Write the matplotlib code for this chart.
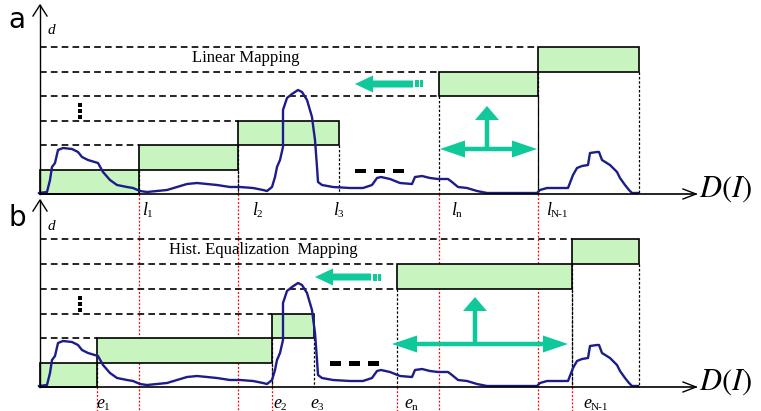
import matplotlib
matplotlib.use('Agg')
import matplotlib.pyplot as plt
from matplotlib.patches import Rectangle, FancyArrow

plt.rcParams['mathtext.fontset'] = 'stix'

# ---- data (pixel units of the 761x411 picture) ----
y_axis_x = 40
axis_end = 696

# panel a: linear mapping
base_a = 194
top_a = 5
levels_a = [194, 170, 145, 121, 96, 72, 47]
edges_a = [40, 139, 238, 339, 439, 538, 639]
l_marks = [139, 238, 439, 538]
l_subs = ['1', '2', '3', 'n', 'N-1']
l_label_x = [142, 252, 333, 451, 546]

# panel b: histogram equalization mapping
base_b = 387
top_b = 200
levels_b = [387, 363, 338, 314, 289, 264, 239]
edges_b = [40, 97, 272, 314, 397, 572, 639]
e_marks = [97, 272, 397, 572]
e_subs = ['1', '2', '3', 'n', 'N-1']
e_label_x = [96, 273, 310, 404, 583]

# boxes: (left edge idx, right edge idx, bottom level idx)
boxes = [(0, 1, 0), (1, 2, 1), (2, 3, 2), (4, 5, 4), (5, 6, 5)]
# dashed level lines: (level idx, edge idx where the dash stops)
dash_levels = [(2, 1), (3, 2), (4, 4), (5, 4), (6, 5)]

# intensity histogram curve (x, height above axis)
curve_x = [39, 47, 50, 52, 55, 58, 63, 72, 78, 82, 88, 98, 103, 110, 117, 127,
           133, 140, 147, 157, 167, 177, 187, 197, 207, 217, 230, 240, 253, 263,
           267, 272, 275, 277, 280, 283, 283, 287, 292, 298, 302, 307, 312, 313,
           315, 317, 318, 322, 333, 350, 363, 372, 377, 381, 390, 400, 412, 415,
           422, 430, 438, 448, 452, 458, 467, 477, 487, 513, 537, 540, 547, 568,
           573, 577, 582, 588, 590, 597, 599, 602, 610, 617, 620, 625, 629, 632, 638]
curve_h = [1, 2, 14, 27, 31, 44, 46, 45, 42, 37, 34, 31, 22, 14, 9, 7,
           6, 3, 2, 3, 4, 7, 10, 11, 10, 9, 7, 7, 6, 4,
           3, 7, 17, 27, 34, 47, 84, 96, 100, 104, 102, 94, 77, 69,
           54, 27, 12, 9, 7, 6, 6, 9, 16, 17, 15, 11, 10, 17,
           18, 16, 15, 15, 12, 7, 6, 3, 1, 1, 1, 4, 6, 6,
           19, 26, 28, 29, 41, 42, 42, 34, 29, 22, 16, 9, 4, 1, 1]

green = '#10c99a'
box_fill = '#c8f4c0'
curve_col = '#1c1c8a'
serif = 'Liberation Serif'

fig = plt.figure(figsize=(7.61, 4.11), dpi=100)
ax = fig.add_axes([0, 0, 1, 1])
ax.set_xlim(0, 761)
ax.set_ylim(411, 0)
ax.axis('off')


def draw_panel(base, top, levels, edges, marks, subs, label_x, letter, letter_y,
               title, title_x):
    # red dotted guide lines
    for m in marks:
        ax.plot([m, m], [base, 411], color='red', ls=(0, (1.5, 1.5)), lw=0.9, zorder=1)
    # dashed level lines
    for k, ei in dash_levels:
        ax.plot([y_axis_x, edges[ei]], [levels[k], levels[k]], color='black',
                ls=(0, (4, 2.5)), lw=1.2, zorder=2)
    # boxes and dashed drops
    for li, ri, k in boxes:
        x0, x1 = edges[li], edges[ri]
        ax.add_patch(Rectangle((x0, levels[k + 1]), x1 - x0, levels[k] - levels[k + 1],
                               facecolor=box_fill, edgecolor='black', lw=1.2, zorder=3))
        if levels[k] != base:
            for xe in (x0, x1):
                ax.plot([xe, xe], [levels[k], base], color='black',
                        ls=(0, (2, 1.5)), lw=0.9, zorder=2)
    # histogram curve
    ax.plot(curve_x, [base - h for h in curve_h], color=curve_col, lw=1.7, zorder=4)
    # axes with open arrow heads
    ax.plot([y_axis_x, y_axis_x], [base, top], color='black', lw=1.0, zorder=5)
    ax.plot([y_axis_x - 7, y_axis_x, y_axis_x + 7], [top + 11, top, top + 11],
            color='black', lw=1.0, zorder=5)
    ax.plot([y_axis_x, axis_end], [base, base], color='black', lw=1.2, zorder=5)
    ax.plot([axis_end - 13, axis_end, axis_end - 13], [base - 5, base, base + 5],
            color='black', lw=1.0, zorder=5)
    ax.text(axis_end + 3, base + 3, r'$D(I)$', fontsize=22, va='baseline', ha='left')
    ax.text(17, letter_y, letter, fontsize=20, ha='center', va='center',
            family='DejaVu Sans')
    ax.text(y_axis_x + 8, top + 26, 'd', fontsize=11, style='italic', family=serif,
            va='center')
    ax.text(title_x, levels[6] + 11, title, fontsize=12, family=serif,
            ha='center', va='center')
    # boundary labels
    letter_l = 'l' if letter == 'a' else 'e'
    for x, s in zip(label_x, subs):
        ax.text(x, base + 16, letter_l, fontsize=13, style='italic', family=serif,
                ha='left', va='center')
        ax.text(x + (5 if letter_l == 'l' else 8), base + 20, s, fontsize=8,
                family=serif, ha='left', va='center')
    # ellipsis marks
    for dy in (-6, 0, 6):
        ax.add_patch(Rectangle((78, levels[4] + 13 + dy), 4, 3.5,
                               facecolor='black', edgecolor='none', zorder=5))


draw_panel(base_a, top_a, levels_a, edges_a, l_marks, l_subs, l_label_x,
           'a', 20, 'Linear Mapping', 246)
draw_panel(base_b, top_b, levels_b, edges_b, e_marks, e_subs, e_label_x,
           'b', 218, 'Hist. Equalization  Mapping', 263)

# horizontal "- - -" marks
for x0, y0 in [(355, 171), (330, 363)]:
    for i in range(3):
        ax.add_patch(Rectangle((x0 + i * 19, y0 - 2), 11, 4.5,
                               facecolor='black', edgecolor='none', zorder=5))

# left-pointing mapping arrows
for tip, tail, y in [(355, 413, 84), (315, 371, 277)]:
    ax.add_patch(FancyArrow(tail, y, tip - tail, 0, width=7, head_width=17,
                            head_length=18, length_includes_head=True,
                            color=green, lw=0, zorder=5))
    for bx, bw in [(tail + 1.5, 4), (tail + 7, 3)]:
        ax.add_patch(Rectangle((bx, y - 3.5), bw, 7, facecolor=green,
                               edgecolor='none', zorder=5))

# stretch arrows (cross)
for left, right, y, cx, top in [(440, 537, 149, 487, 106), (392, 568, 344, 475, 297)]:
    for end in (left, right):
        ax.add_patch(FancyArrow(cx, y, end - cx, 0, width=4.5, head_width=17,
                                head_length=25, length_includes_head=True,
                                color=green, lw=0, zorder=5))
    ax.add_patch(FancyArrow(cx, y, 0, top - y, width=4.5, head_width=24,
                            head_length=14, length_includes_head=True,
                            color=green, lw=0, zorder=5))

fig.savefig('out.png', dpi=100)
